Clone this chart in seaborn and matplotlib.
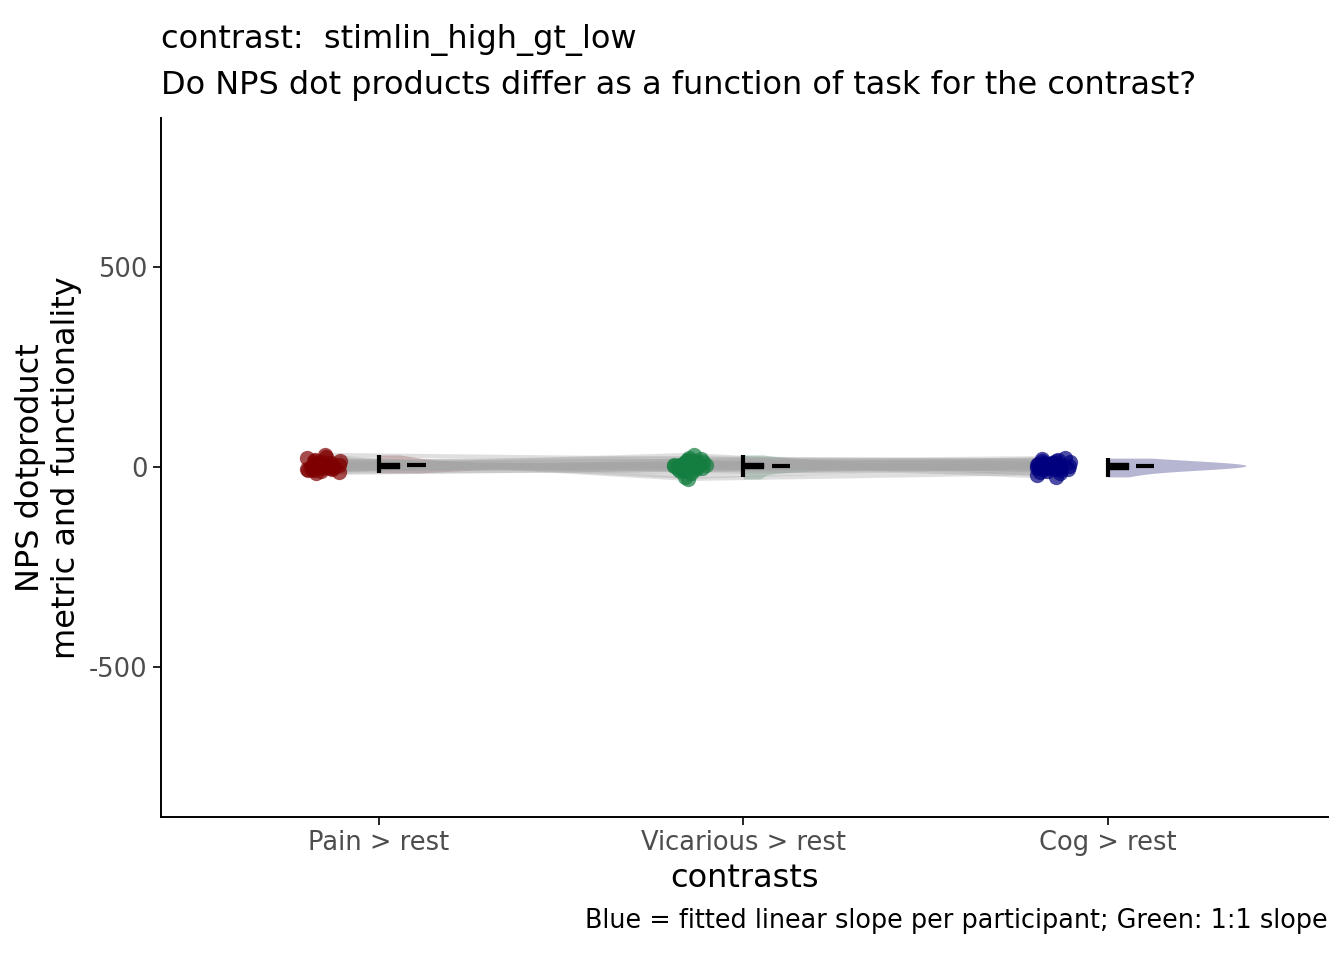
import numpy as np
import pandas as pd
import seaborn as sns
import matplotlib.pyplot as plt

tasks = ["Pain > rest", "Vicarious > rest", "Cog > rest"]
colors = ["#7f0000", "#137e3f", "#00007f"]

pain = [2, -5, 8, 30, -12, 5, 0, 14, -8, 3, 22, -3, 6, -15, 10,
        1, -6, 4, 18, -10, 7, -2, 12, -4, 25, 0, 9, -7, 3, 15]
vicarious = [5, -3, 12, 20, -8, 2, 30, -15, 7, 0, -25, 10, 4, -5, 15,
             -2, 8, 1, -10, 18, 3, -6, 22, 6, -30, 9, -1, 11, -4, 14]
cog = [-3, 6, -10, 15, 0, 8, -20, 4, 12, -5, 2, 18, -8, 10, -25,
       5, -2, 20, -12, 7, 1, -6, 14, 3, -15, 9, -1, 11, -4, 22]

yticks = [-500, 0, 500]
ytick_labels = ["-500", "0", "500"]

n_sub = len(pain)
df = pd.DataFrame({
    "sub": np.tile(np.arange(n_sub), 3),
    "task": np.repeat(tasks, n_sub),
    "idx": np.repeat([0, 1, 2], n_sub),
    "value": pain + vicarious + cog,
})
df["side"] = "right"
df["xpts"] = df["idx"] - 0.15
df["xviol"] = df["idx"] + 0.19

sns.set_theme(style="ticks")
plt.rcParams["font.family"] = ["DejaVu Sans"]
plt.rcParams["text.color"] = "black"
plt.rcParams["axes.labelcolor"] = "black"

fig = plt.figure(figsize=(13.44, 9.6), dpi=100)
ax = fig.add_axes([0.1198, 0.149, 0.868, 0.728])

# half violins, right of each category
for i, t in enumerate(tasks):
    sub = df[df["task"] == t]
    sns.violinplot(data=sub, x="xviol", y="value", hue="side",
                   native_scale=True, hue_order=["left", "right"],
                   split=True, inner=None,
                   palette={"left": colors[i], "right": colors[i]},
                   cut=0, width=0.38, density_norm="width", linewidth=0,
                   alpha=0.3, legend=False, ax=ax)

# subject lines
sns.lineplot(data=df, x="xpts", y="value", units="sub", estimator=None,
             color="#a6a6a6", alpha=0.35, linewidth=3, legend=False, ax=ax)

# jittered points
np.random.seed(3)
for i, t in enumerate(tasks):
    sub = df[df["task"] == t]
    sns.stripplot(data=sub, x="xpts", y="value", native_scale=True,
                  jitter=0.05, color=colors[i], size=11, alpha=0.7,
                  linewidth=0, ax=ax)

# narrow boxes + mean dash
for i, t in enumerate(tasks):
    v = np.array(df.loc[df["task"] == t, "value"])
    q1, med, q3 = np.percentile(v, [25, 50, 75])
    iqr = q3 - q1
    lo = v[v >= q1 - 1.5 * iqr].min()
    hi = v[v <= q3 + 1.5 * iqr].max()
    ax.vlines(i, lo, hi, color="black", linewidth=3, zorder=5)
    ax.fill_between([i, i + 0.055], q1, q3, color="black", zorder=5)
    ax.hlines(med, i, i + 0.055, color="black", linewidth=3, zorder=5)
    ax.hlines(v.mean(), i + 0.078, i + 0.128, color="black", linewidth=3,
              zorder=5)

ax.set_xlim(-0.598, 2.604)
ax.set_ylim(-875, 872)
ax.set_xticks([0, 1, 2])
ax.set_xticklabels(tasks)
ax.set_yticks(yticks)
ax.set_yticklabels(ytick_labels)
ax.tick_params(axis="both", labelsize=18.5, labelcolor="#4d4d4d",
               color="black", length=6, width=1.2)
sns.despine(ax=ax)
for s in ["left", "bottom"]:
    ax.spines[s].set_linewidth(1.4)
    ax.spines[s].set_color("black")

ax.set_xlabel("contrasts", fontsize=23, labelpad=5)
ax.set_ylabel("NPS dotproduct\nmetric and functionality", fontsize=23,
              labelpad=5)

fig.text(0.1198, 0.958, "contrast:  stimlin_high_gt_low", fontsize=23,
         ha="left", va="center")
fig.text(0.1198, 0.911,
         "Do NPS dot products differ as a function of task for the contrast?",
         fontsize=23, ha="left", va="center")
fig.text(0.988, 0.041,
         "Blue = fitted linear slope per participant; Green: 1:1 slope",
         fontsize=18.4, ha="right", va="center")

fig.savefig("out.png", dpi=100)
